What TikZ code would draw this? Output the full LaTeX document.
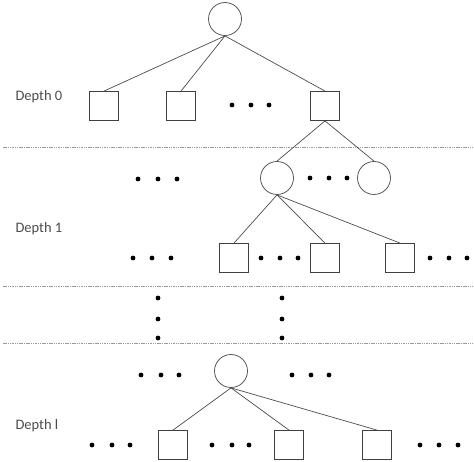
\documentclass[tikz,border=0pt]{standalone}
\usepackage{fontspec}
\setmainfont{Carlito}
\begin{document}
\begin{tikzpicture}[x=1pt,y=-1pt,
        leaf/.style={draw=black!75,fill=white,line width=0.8pt,minimum size=29pt,inner sep=0pt},
        inner/.style={draw=black!65,circle,line width=0.8pt,minimum size=33pt,inner sep=0pt},
        edge/.style={draw=black!70,line width=0.7pt},
        sep/.style={draw=black!40,dash pattern=on 1.5pt off 0.8pt,line width=0.7pt},
        lbl/.style={font=\fontsize{14.5}{17}\selectfont,text=black!70,anchor=west}]
    \useasboundingbox (0,0) rectangle (474,462);
    % depth 0
    \node[inner] (root) at (225,19) {};
    \node[leaf] (a1) at (104,106) {};
    \node[leaf] (a2) at (181,106) {};
    \node[leaf] (a3) at (325,106) {};
    \draw[edge] (root.south) -- (a1.north);
    \draw[edge] (root.south) -- (a2.north);
    \draw[edge] (root.south) -- (a3.north);
    \node[lbl] (dep0) at (12,97) {Depth 0};
    \draw[sep] (3,147) -- (473,147);
    % depth 1
    \node[inner] (b1) at (277,178) {};
    \node[inner] (b2) at (374,178) {};
    \draw[edge] (a3.south) -- (b1.north);
    \draw[edge] (a3.south) -- (b2.north);
    \node[leaf] (c1) at (234,258) {};
    \node[leaf] (c2) at (325,258) {};
    \node[leaf] (c3) at (400,258) {};
    \draw[edge] (b1.south) -- (c1.north);
    \draw[edge] (b1.south) -- (c2.north);
    \draw[edge] (b1.south) -- (c3.north);
    \node[lbl] (dep1) at (12,229) {Depth 1};
    \draw[sep] (3,286) -- (473,286);
    % skipped levels
    \foreach \y in {298,319,338} {
        \fill (158,\y) circle (2.4pt);
        \fill (282,\y) circle (2.4pt);
    }
    \draw[sep] (3,343) -- (473,343);
    % depth l
    \node[inner] (d1) at (231,371) {};
    \node[leaf] (e1) at (173,445) {};
    \node[leaf] (e2) at (289,445) {};
    \node[leaf] (e3) at (377,445) {};
    \draw[edge] (d1.south) -- (e1.north);
    \draw[edge] (d1.south) -- (e2.north);
    \draw[edge] (d1.south) -- (e3.north);
    \node[lbl] (depl) at (12,426) {Depth l};
    % ellipsis dots
    \foreach \x/\y in {232/105,251/105,269/105,
            138/179,158/179,177/179, 310/178,329/178,347/178,
            133/258,152/258,171/258, 261/258,280/258,298/258, 430/258,449/258,467/258,
            141/375,161/375,179/375, 292/375,311/375,329/375,
            92/445,112/445,130/445, 212/445,232/445,249/445, 420/445,439/445,458/445}
        \fill (\x,\y) circle (2.4pt);
\end{tikzpicture}
\end{document}
